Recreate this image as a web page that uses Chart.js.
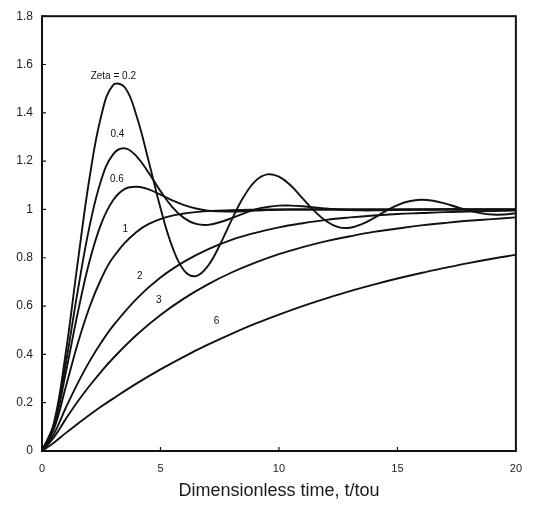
<!DOCTYPE html>
<html>
<head>
<meta charset="utf-8">
<script src="https://cdn.jsdelivr.net/npm/chart.js@4/dist/chart.umd.min.js"></script>
<style>
    html, body { margin: 0; padding: 0; background: #fff; }
    #wrap { width: 533px; height: 508px; position: relative; }
</style>
</head>
<body>
<div id="wrap"><canvas id="step-response-chart"></canvas></div>
<script>
// dimensionless time t/tau
const tFine = [0, 0.5, 1, 1.5, 2, 2.5, 3, 3.5, 4, 4.5, 5, 5.5, 6, 6.5, 7, 7.5, 8, 8.5, 9, 9.5, 10,
    10.5, 11, 11.5, 12, 12.5, 13, 13.5, 14, 14.5, 15, 15.5, 16, 16.5, 17, 17.5, 18, 18.5, 19, 19.5, 20];
const tCoarse = [0, 0.5, 1, 1.5, 2, 2.5, 3, 4, 5, 6, 7, 8, 9, 10, 11, 12, 13, 14, 15, 16, 17, 18, 19, 20];

// response
const zeta02 = [0, 0.115, 0.405, 0.775, 1.127, 1.388, 1.515, 1.505, 1.384, 1.201, 1.006, 0.845, 0.747, 0.724,
    0.766, 0.852, 0.956, 1.050, 1.117, 1.145, 1.136, 1.099, 1.046, 0.993, 0.951, 0.927, 0.924, 0.939, 0.964,
    0.993, 1.018, 1.034, 1.040, 1.036, 1.025, 1.010, 0.996, 0.985, 0.979, 0.979, 0.984];
const zeta04 = [0, 0.108, 0.360, 0.658, 0.927, 1.122, 1.228, 1.253, 1.219, 1.152, 1.076, 1.010, 0.964, 0.940,
    0.936, 0.947, 0.964, 0.983, 1.000, 1.010, 1.016, 1.016, 1.013, 1.008, 1.004, 1.000, 0.997, 0.996, 0.996,
    0.997, 0.998, 0.999, 1.000, 1.000, 1.001, 1.001, 1.000, 1.000, 1.000, 1.000, 1.000];
const zeta06 = [0, 0.101, 0.322, 0.568, 0.783, 0.941, 1.038, 1.085, 1.094, 1.083, 1.061, 1.038, 1.018, 1.004,
    0.995, 0.992, 0.991, 0.992, 0.995, 0.997, 0.999, 1.000, 1.000, 1.000, 1.000, 1.000, 1.000, 1.000, 1.000,
    1.000, 1.000, 1.000, 1.000, 1.000, 1.000, 1.000, 1.000, 1.000, 1.000, 1.000, 1.000];
const zeta1 = [0, 0.090, 0.264, 0.442, 0.594, 0.713, 0.801, 0.908, 0.960, 0.983, 0.993, 0.997, 0.999, 1.000,
    1.000, 1.000, 1.000, 1.000, 1.000, 1.000, 1.000, 1.000, 1.000, 1.000];
const zeta2 = [0, 0.070, 0.178, 0.279, 0.370, 0.449, 0.518, 0.631, 0.718, 0.784, 0.835, 0.874, 0.903, 0.926,
    0.943, 0.957, 0.967, 0.975, 0.981, 0.985, 0.989, 0.991, 0.993, 0.995];
const zeta3 = [0, 0.056, 0.132, 0.204, 0.269, 0.329, 0.384, 0.481, 0.563, 0.632, 0.690, 0.739, 0.780, 0.815,
    0.844, 0.869, 0.889, 0.907, 0.921, 0.934, 0.944, 0.953, 0.960, 0.967];
const zeta6 = [0, 0.034, 0.074, 0.112, 0.149, 0.184, 0.217, 0.280, 0.338, 0.391, 0.440, 0.485, 0.527, 0.565,
    0.600, 0.632, 0.662, 0.689, 0.714, 0.737, 0.758, 0.778, 0.796, 0.812];

// curve labels, placed in data units
const curveLabels = ['Zeta = 0.2', '0.4', '0.6', '1', '2', '3', '6'];
const labelT = [3.01, 3.18, 3.16, 3.52, 4.13, 4.93, 7.37];
const labelY = [1.55, 1.311, 1.124, 0.917, 0.723, 0.624, 0.537];

const xTicks = [0, 5, 10, 15, 20];
const yTicks = [0, 0.2, 0.4, 0.6, 0.8, 1, 1.2, 1.4, 1.6, 1.8];

const FONT = "'Liberation Sans', Arial, sans-serif";
const INK = '#111';

const pairs = (xs, ys) => ys.map((y, i) => ({ x: xs[i], y }));
const series = [
    [tFine, zeta02], [tFine, zeta04], [tFine, zeta06],
    [tCoarse, zeta1], [tCoarse, zeta2], [tCoarse, zeta3], [tCoarse, zeta6],
];

const datasets = series.map(([xs, ys], i) => ({
    label: curveLabels[i],
    data: pairs(xs, ys),
    borderColor: INK,
    borderWidth: 1.9,
    pointRadius: 0,
    tension: 0.4,
    fill: false,
}));

// frame, inward ticks and curve labels
const framePlugin = {
    id: 'frame',
    afterDatasetsDraw(chart) {
        const { ctx, chartArea: a, scales: { x, y } } = chart;
        ctx.save();
        ctx.strokeStyle = INK;
        ctx.lineWidth = 2;
        ctx.strokeRect(a.left, a.top, a.right - a.left, a.bottom - a.top);
        ctx.lineWidth = 1.2;
        ctx.beginPath();
        xTicks.forEach((v) => {
            const px = x.getPixelForValue(v);
            ctx.moveTo(px, a.bottom);
            ctx.lineTo(px, a.bottom - 4);
        });
        yTicks.forEach((v) => {
            const py = y.getPixelForValue(v);
            ctx.moveTo(a.left, py);
            ctx.lineTo(a.left + 4, py);
        });
        ctx.stroke();

        ctx.fillStyle = INK;
        ctx.font = `10px ${FONT}`;
        ctx.textAlign = 'center';
        ctx.textBaseline = 'middle';
        curveLabels.forEach((txt, i) => {
            ctx.fillText(txt, x.getPixelForValue(labelT[i]), y.getPixelForValue(labelY[i]));
        });
        ctx.restore();
    },
};

new Chart(document.getElementById('step-response-chart'), {
    type: 'line',
    data: { datasets },
    plugins: [framePlugin],
    options: {
        responsive: true,
        maintainAspectRatio: false,
        animation: false,
        layout: { padding: { top: 13, right: 17, left: 0, bottom: 0 } },
        plugins: {
            legend: { display: false },
            tooltip: { enabled: false },
            title: { display: false },
        },
        scales: {
            x: {
                type: 'linear',
                min: 0,
                max: 20,
                afterBuildTicks: (s) => { s.ticks = xTicks.map((v) => ({ value: v })); },
                afterFit: (s) => { s.height = 57; },
                grid: { display: false, drawTicks: false },
                border: { display: false },
                ticks: {
                    color: '#222',
                    padding: 11,
                    maxRotation: 0,
                    font: { family: FONT, size: 11 },
                },
                title: {
                    display: true,
                    text: 'Dimensionless time, t/tou',
                    color: '#1a1a1a',
                    font: { family: FONT, size: 18 },
                    padding: { top: 0, bottom: 6 },
                },
            },
            y: {
                type: 'linear',
                min: 0,
                max: 1.8,
                afterBuildTicks: (s) => { s.ticks = yTicks.map((v) => ({ value: v })); },
                afterFit: (s) => { s.width = 42; },
                grid: { display: false, drawTicks: false },
                border: { display: false },
                ticks: {
                    color: '#222',
                    padding: 9,
                    font: { family: FONT, size: 12 },
                    callback: (v) => String(Math.round(v * 10) / 10),
                },
            },
        },
    },
});
</script>
</body>
</html>
